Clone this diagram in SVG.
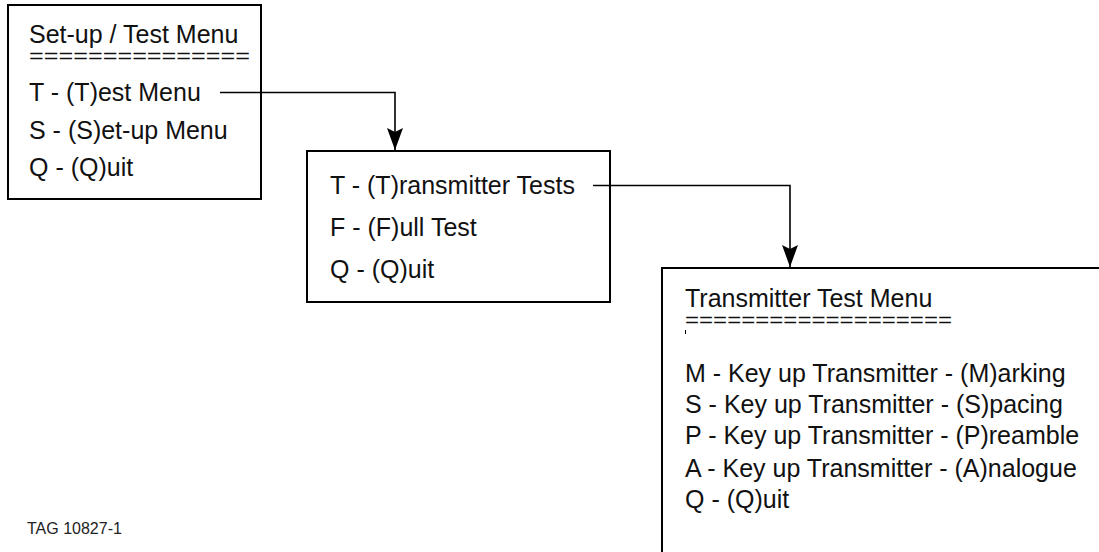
<svg xmlns="http://www.w3.org/2000/svg" width="1099" height="552" viewBox="0 0 1099 552">
  <defs>
    <style>
      .box { fill: #fff; stroke: #000; stroke-width: 2; }
      .wire { fill: none; stroke: #000; stroke-width: 1.6; }
      .t { font-family: "Liberation Sans", Arial, sans-serif; font-size: 25px; fill: #111; }
      .eq { font-family: "Liberation Sans", Arial, sans-serif; font-size: 21px; fill: #111; }
      .tag { font-family: "Liberation Sans", Arial, sans-serif; font-size: 16px; fill: #222; }
    </style>
    <marker id="arrow" markerUnits="userSpaceOnUse" markerWidth="18" markerHeight="24" viewBox="0 0 18 24" refX="9" refY="23" orient="0">
      <path d="M1 1 L9 5 L17 1 L9 23 Z" fill="#000"/>
    </marker>
  </defs>
  <rect width="1099" height="552" fill="#fff"/>

  <!-- top-level menu -->
  <g id="setup-test-menu">
    <rect class="box" x="8" y="5" width="253" height="194"/>
    <text class="t" x="29" y="43">Set-up / Test Menu</text>
    <text class="eq" x="29" y="63" textLength="221" lengthAdjust="spacingAndGlyphs">===============</text>
    <text class="t" x="29" y="101">T - (T)est Menu</text>
    <text class="t" x="29" y="139">S - (S)et-up Menu</text>
    <text class="t" x="29" y="176">Q - (Q)uit</text>
  </g>

  <!-- test menu -->
  <g id="test-menu">
    <rect class="box" x="307" y="151" width="303" height="151"/>
    <text class="t" x="330" y="194">T - (T)ransmitter Tests</text>
    <text class="t" x="330" y="236">F - (F)ull Test</text>
    <text class="t" x="330" y="278">Q - (Q)uit</text>
  </g>

  <!-- transmitter test menu, runs off the sheet -->
  <g id="transmitter-test-menu">
    <rect class="box" x="662" y="268" width="460" height="300"/>
    <text class="t" x="685" y="307">Transmitter Test Menu</text>
    <text class="eq" x="685" y="327" textLength="267" lengthAdjust="spacingAndGlyphs">===================</text>
    <line x1="685.5" y1="330" x2="685.5" y2="334" stroke="#000" stroke-width="1"/>
    <text class="t" x="685" y="382">M - Key up Transmitter - (M)arking</text>
    <text class="t" x="685" y="413">S - Key up Transmitter - (S)pacing</text>
    <text class="t" x="685" y="444">P - Key up Transmitter - (P)reamble</text>
    <text class="t" x="685" y="477">A - Key up Transmitter - (A)nalogue</text>
    <text class="t" x="685" y="508">Q - (Q)uit</text>
  </g>

  <g id="connectors">
    <path class="wire" d="M220 92.5 H395 V150" marker-end="url(#arrow)"/>
    <path class="wire" d="M593 185.5 H790 V267" marker-end="url(#arrow)"/>
  </g>

  <g id="tag">
    <text class="tag" x="27" y="534">TAG 10827-1</text>
  </g>
</svg>
